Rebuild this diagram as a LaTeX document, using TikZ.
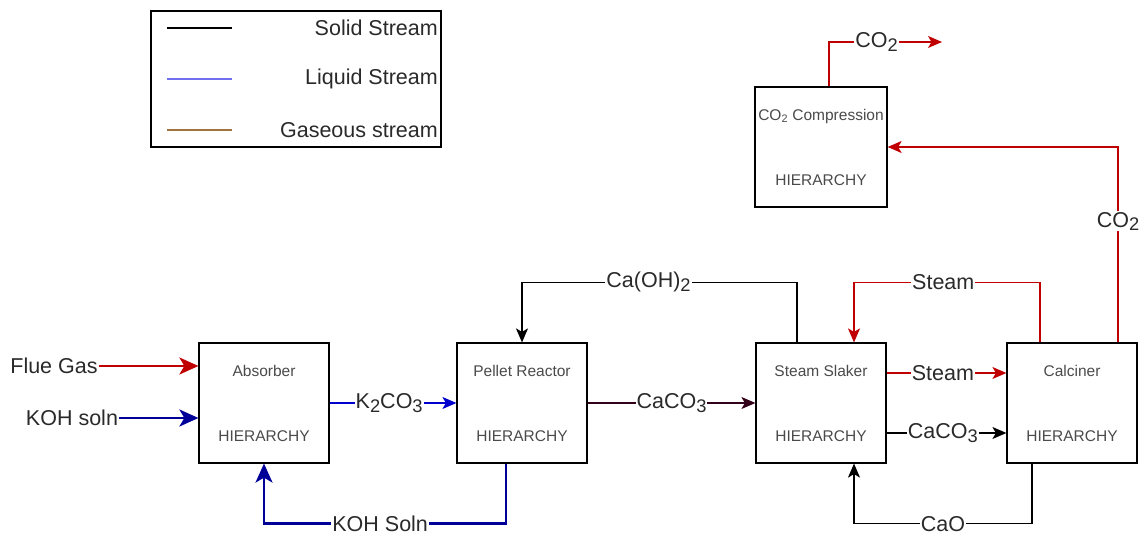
\documentclass[tikz,border=0pt]{standalone}
\usepackage{fontspec}
\setmainfont{Liberation Sans}
\usetikzlibrary{arrows.meta}

\definecolor{gasred}{HTML}{C00000}
\definecolor{liqblue}{HTML}{0000CC}
\definecolor{kohblue}{HTML}{000099}
\definecolor{cacored}{HTML}{33001A}
\definecolor{legblue}{HTML}{7070EE}
\definecolor{legbrown}{HTML}{A0743F}
\definecolor{txtgray}{HTML}{2A2A2A}
\newcommand{\dn}[1]{\raisebox{-0.3ex}{\scalebox{0.85}{#1}}}

\begin{document}
\begin{tikzpicture}
  [x=1pt,y=-1pt,
   unit/.style={draw,line width=1.2pt,minimum width=130pt,minimum height=120pt,
     align=center,text=txtgray!85,font=\fontsize{15.5}{16}\selectfont},
   lbl/.style={fill=white,inner sep=1pt,text=txtgray,font=\fontsize{21.5}{22}\selectfont},
   thin/.style={line width=1.2pt,-{Stealth[length=14pt,width=12pt,inset=3.5pt]}},
   thick/.style={line width=2.7pt,-{Stealth[length=19pt,width=17pt,inset=5pt]}}]
  \useasboundingbox (0,0) rectangle (1148,534);

  % legend
  \draw[line width=1.2pt] (151,11) rectangle (441,147);
  \foreach \nm/\y/\col/\txt in {sol/28/black/Solid Stream,
      liq/79/legblue/Liquid Stream, gas/130/legbrown/Gaseous stream}{
    \draw[\col,line width=1.5pt] (167,\y) -- (232,\y);
    \node[lbl,anchor=east] (\nm) at (439,\y) {\txt};
  }

  % units
  \foreach \nm/\x/\y/\txt in {abs/264/403/Absorber, pel/522/403/Pellet Reactor,
      sla/821/403/Steam Slaker, cal/1072/403/Calciner,
      cmp/821/147/CO\textsubscript{2} Compression}
    \node[unit] (\nm) at (\x,\y) {\txt\\[49pt]HIERARCHY};

  % feeds
  \node[lbl] (flue) at (54,366) {Flue Gas};
  \node[lbl] (koh) at (72,418) {KOH soln};
  \coordinate (co2out) at (942,42);

  \draw[gasred,thick,line width=2.5pt] (flue.east) -- (flue -| abs.west);
  \draw[kohblue,thick] (koh.east) -- (koh -| abs.west);

  \draw[liqblue,thin] (abs.east) -- node[lbl,pos=0.47] {K\dn{2}CO\dn{3}} (pel.west);
  \draw[cacored,thin] (pel.east) -- node[lbl] {CaCO\dn{3}} (sla.west);
  \draw[kohblue,thick] ([xshift=-16pt]pel.south) -- ++(0,60)
    -| node[lbl,pos=0.26] {KOH Soln} (abs.south);
  \draw[black,thin] ([xshift=-24pt]sla.north) -- ++(0,-60)
    -| node[lbl,pos=0.27] {Ca(OH)\dn{2}} (pel.north);

  \draw[gasred,thin] ([xshift=-32pt]cal.north) -- ++(0,-60)
    -| node[lbl,pos=0.26] {Steam} ([xshift=33pt]sla.north);
  \draw[gasred,thin] ([yshift=30pt]sla.east) -- node[lbl,pos=0.47] {Steam} ([yshift=30pt]cal.west);
  \draw[black,thin] ([yshift=-30pt]sla.east) -- node[lbl,pos=0.47] {CaCO\dn{3}} ([yshift=-30pt]cal.west);
  \draw[black,thin] ([xshift=-40pt]cal.south) -- ++(0,60)
    -| node[lbl,pos=0.25] {CaO} ([xshift=33pt]sla.south);

  \draw[gasred,thin] ([xshift=46pt]cal.north) |- node[lbl,pos=0.31] {CO\dn{2}} (cmp.east);
  \draw[gasred,thin] ([xshift=8pt]cmp.north) |- node[lbl,pos=0.71] {CO\dn{2}} (co2out);

\end{tikzpicture}
\end{document}
